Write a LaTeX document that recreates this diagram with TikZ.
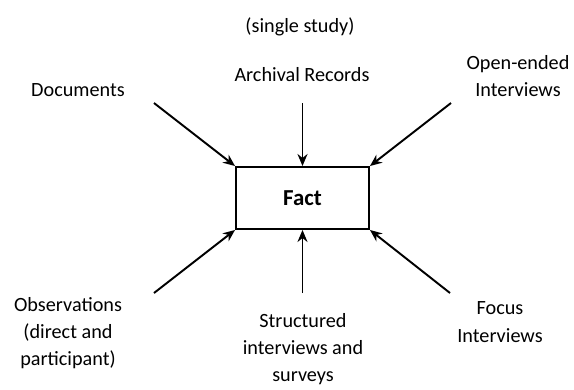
\documentclass[tikz,border=0pt]{standalone}
\usepackage{fontspec}
\setmainfont{Carlito}
\usetikzlibrary{arrows.meta}
\begin{document}
\begin{tikzpicture}

    \tikzset{
      source/.style={
        align=center,
        font=\fontsize{11.5}{15.5}\selectfont,
        inner sep=0pt,
      },
      feed/.style={
        line width=1.1pt,
        -{Stealth[length=2.4mm,width=2mm]},
      },
    }
    \useasboundingbox (0,0) rectangle (11.48,7.78);
	\node[draw,line width=1.1pt,minimum width=2.66cm,minimum height=1.24cm,font=\fontsize{13}{15}\selectfont\bfseries] (fact) at (6.05,3.82) {Fact};
	\node[source] (study) at (6.0,7.24) {(single study)};
	\node[source] (archival) at (6.04,6.28) {Archival Records};
	\node[source] (documents) at (1.56,5.98) {Documents};
	\node[source] (openended) at (10.36,6.26) {Open-ended\\Interviews};
	\node[source] (observations) at (1.36,1.12) {Observations\\(direct and\\participant)};
	\node[source] (structured) at (6.06,0.8) {Structured\\interviews and\\surveys};
	\node[source] (focus) at (10.0,1.34) {Focus\\Interviews};
	\coordinate (documents-tail) at (3.08,5.72);
	\coordinate (archival-tail) at (6.05,5.72);
	\coordinate (openended-tail) at (9.02,5.72);
	\coordinate (observations-tail) at (3.08,1.92);
	\coordinate (structured-tail) at (6.05,1.92);
	\coordinate (focus-tail) at (9.0,1.92);
	\draw[feed] (documents-tail)--(fact.north west);
	\draw[feed] (archival-tail)--(fact.north);
	\draw[feed] (openended-tail)--(fact.north east);
	\draw[feed] (observations-tail)--(fact.south west);
	\draw[feed] (structured-tail)--(fact.south);
	\draw[feed] (focus-tail)--(fact.south east);

\end{tikzpicture}
\end{document}
